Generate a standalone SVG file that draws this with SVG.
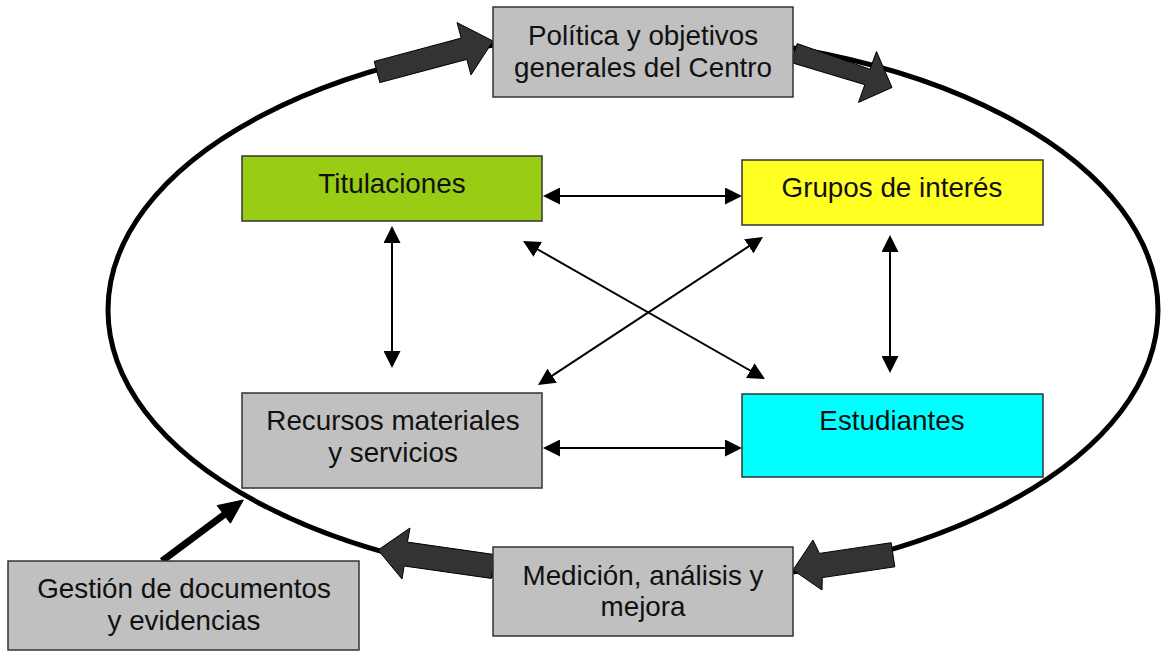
<svg xmlns="http://www.w3.org/2000/svg" width="1165" height="652" viewBox="0 0 1165 652">
<style>
.box{stroke:#333;stroke-width:1.5}
.gray{fill:#C0C0C0}
.t{font-family:"Liberation Sans",Arial,sans-serif;font-size:27.8px;fill:#111;text-anchor:middle}
.thin{stroke:#000;stroke-width:2;fill:none;marker-start:url(#ah);marker-end:url(#ah)}
.block{fill:#333;stroke:#000;stroke-width:1;stroke-linejoin:miter}
</style>
<defs>
<marker id="ah" viewBox="0 0 17 17" refX="14" refY="8.5" markerWidth="17" markerHeight="17" markerUnits="userSpaceOnUse" orient="auto-start-reverse">
<path d="M0,0 L17,8.5 L0,17 z" fill="#000"/>
</marker>
</defs>
<rect width="1165" height="652" fill="#fff"/>
<g id="cycle">
<ellipse cx="633" cy="310" rx="525" ry="275" fill="none" stroke="#000" stroke-width="5"/>
</g>
<g id="connectors">
<polygon class="block" points="374.2,61.4 461.2,38.1 457,22.6 493,41 471,74.9 466.8,59.4 379.8,82.6"/>
<polygon class="block" points="797.3,43.6 870,69.2 876.5,51.5 892,87.5 858.5,102.4 864.8,84.7 790.7,62.4"/>
<polygon class="block" points="891.2,542.7 819.4,553.4 813,540 793,570 822,590 822.3,577.6 894.8,566.8"/>
<polygon class="block" points="494.7,554.6 407.4,542.1 410,528 378,550 402,579 404.1,566 491.3,578.4"/>
<line x1="162" y1="561" x2="225" y2="514" stroke="#000" stroke-width="7"/>
<polygon points="243.3,500 230.4,523.2 217.2,505.6" fill="#000" stroke="#000" stroke-width="1"/>
<line class="thin" x1="546" y1="196" x2="739" y2="196"/>
<line class="thin" x1="546" y1="448" x2="739" y2="448"/>
<line class="thin" x1="392" y1="229" x2="392" y2="365"/>
<line class="thin" x1="890" y1="238" x2="890" y2="370"/>
<line class="thin" x1="525.6" y1="242.5" x2="762.4" y2="377.5"/>
<line class="thin" x1="760.5" y1="238.6" x2="540.5" y2="383.4"/>
</g>
<g id="politica">
<rect class="box gray" x="493" y="7" width="300" height="90"/>
<text class="t" x="643" y="45">Política y objetivos</text>
<text class="t" x="643" y="77">generales del Centro</text>
</g>
<g id="titulaciones">
<rect class="box" x="242" y="156" width="300" height="65" fill="#99CC15"/>
<text class="t" x="392" y="193">Titulaciones</text>
</g>
<g id="grupos">
<rect class="box" x="742" y="160" width="301" height="65" fill="#FFFF22"/>
<text class="t" x="892" y="197">Grupos de interés</text>
</g>
<g id="recursos">
<rect class="box gray" x="242" y="393" width="300" height="95"/>
<text class="t" x="393" y="430">Recursos materiales</text>
<text class="t" x="393" y="462">y servicios</text>
</g>
<g id="estudiantes">
<rect class="box" x="742" y="394" width="301" height="83" fill="#00FFFF"/>
<text class="t" x="892" y="430">Estudiantes</text>
</g>
<g id="medicion">
<rect class="box gray" x="493" y="547" width="300" height="89"/>
<text class="t" x="643" y="585">Medición, análisis y</text>
<text class="t" x="643" y="616">mejora</text>
</g>
<g id="gestion">
<rect class="box gray" x="8" y="561" width="351" height="89"/>
<text class="t" x="184" y="598">Gestión de documentos</text>
<text class="t" x="184" y="630">y evidencias</text>
</g>
</svg>
